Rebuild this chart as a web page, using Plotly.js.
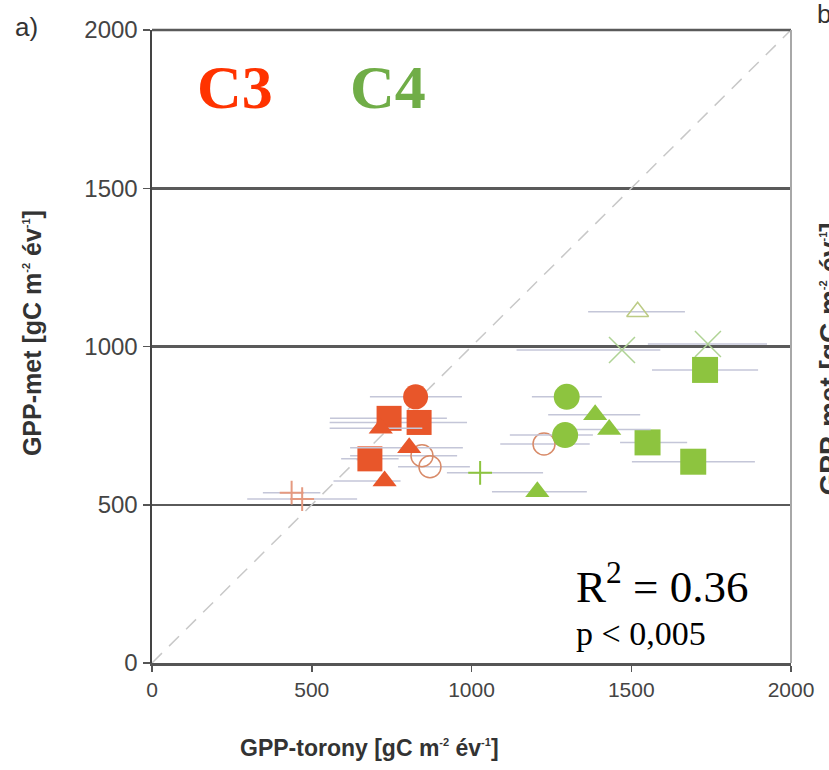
<!DOCTYPE html>
<html><head><meta charset="utf-8">
<script src="https://cdn.plot.ly/plotly-3.0.1.min.js"></script>
<style>html,body{margin:0;padding:0;background:#fff;} #chart{width:829px;height:770px;}</style>
</head><body><div id="chart"></div>
<script>
// ---- axes ----
const xTickVals = [0, 500, 1000, 1500, 2000];
const xTickText = ["0", "500", "1000", "1500", "2000"];
const yTickVals = [0, 500, 1000, 1500, 2000];
const yTickText = ["0", "500", "1000", "1500", "2000"];
const axisRange = [0, 2000];

// ---- 1:1 line ----
const oneToOneX = [0, 2000];
const oneToOneY = [0, 2000];

// ---- C3 sites (GPP-torony, GPP-met, error minus / plus) ----
const c3CircleX = [825];
const c3CircleY = [841];
const c3CircleErrMinus = [143];
const c3CircleErrPlus = [145];

const c3SquareX = [742, 836, 682];
const c3SquareY = [773, 760, 645];
const c3SquareErrMinus = [185, 280, 90];
const c3SquareErrPlus = [181, 150, 90];

const c3TriangleX = [716, 805, 728];
const c3TriangleY = [742, 680, 575];
const c3TriangleErrMinus = [160, 185, 160];
const c3TriangleErrPlus = [130, 168, 50];

const c3OpenCircleX = [845, 870, 1227];
const c3OpenCircleY = [655, 620, 692];
const c3OpenCircleErrMinus = [225, 100, 137];
const c3OpenCircleErrPlus = [110, 125, 143];

const c3PlusX = [437, 470];
const c3PlusY = [538, 518];
const c3PlusErrMinus = [90, 172];
const c3PlusErrPlus = [90, 172];

// ---- C4 sites ----
const c4CircleX = [1298, 1293];
const c4CircleY = [841, 720];
const c4CircleErrMinus = [109, 173];
const c4CircleErrPlus = [110, 87];

const c4TriangleX = [1387, 1431, 1206];
const c4TriangleY = [784, 738, 541];
const c4TriangleErrMinus = [147, 130, 142];
const c4TriangleErrPlus = [141, 130, 155];

const c4SquareX = [1731, 1551, 1694];
const c4SquareY = [926, 697, 636];
const c4SquareErrMinus = [166, 86, 192];
const c4SquareErrPlus = [166, 124, 193];

const c4XX = [1471, 1740];
const c4XY = [989, 1008];
const c4XErrMinus = [330, 188];
const c4XErrPlus = [120, 185];

const c4OpenTriangleX = [1520];
const c4OpenTriangleY = [1110];
const c4OpenTriangleErrMinus = [155];
const c4OpenTriangleErrPlus = [148];

const c4PlusX = [1027];
const c4PlusY = [601];
const c4PlusErrMinus = [104];
const c4PlusErrPlus = [197];

// ---- styles ----
const C3_COLOR = "#E8562A";
const C3_OPEN = "#D88A68";
const C3_PLUS = "#E59A80";
const C4_COLOR = "#8DC43F";
const C4_X = "#AFD395";
const C4_OPEN_TRI = "#BCCB85";
const ERR_COLOR = "#C4C6D8";

function mk(x, y, minus, plus, symbol, size, color, lw) {
  return {
    type: "scatter", mode: "markers", x: x, y: y,
    error_x: {type: "data", symmetric: false, array: plus, arrayminus: minus,
              color: ERR_COLOR, thickness: 1.5, width: 0},
    marker: {symbol: symbol, size: size, color: color,
             line: {color: color, width: lw}},
    hoverinfo: "skip", showlegend: false
  };
}

const traces = [
  {type: "scatter", mode: "lines", x: oneToOneX, y: oneToOneY,
   line: {color: "#C8C8C8", width: 1.5, dash: "14px,10px"}, hoverinfo: "skip", showlegend: false},
  mk(c3PlusX, c3PlusY, c3PlusErrMinus, c3PlusErrPlus, "cross-thin-open", 17, C3_PLUS, 2),
  mk(c3OpenCircleX, c3OpenCircleY, c3OpenCircleErrMinus, c3OpenCircleErrPlus, "circle-open", 22, C3_OPEN, 1.5),
  mk(c3SquareX, c3SquareY, c3SquareErrMinus, c3SquareErrPlus, "square", 25, C3_COLOR, 0),
  mk(c3TriangleX, c3TriangleY, c3TriangleErrMinus, c3TriangleErrPlus, "triangle-up", 21, C3_COLOR, 0),
  mk(c3CircleX, c3CircleY, c3CircleErrMinus, c3CircleErrPlus, "circle", 25, C3_COLOR, 0),
  mk(c4XX, c4XY, c4XErrMinus, c4XErrPlus, "x-thin-open", 26, C4_X, 1.5),
  mk(c4OpenTriangleX, c4OpenTriangleY, c4OpenTriangleErrMinus, c4OpenTriangleErrPlus, "triangle-up-open", 19, C4_OPEN_TRI, 1.5),
  mk(c4PlusX, c4PlusY, c4PlusErrMinus, c4PlusErrPlus, "cross-thin-open", 17, C4_COLOR, 2),
  mk(c4SquareX, c4SquareY, c4SquareErrMinus, c4SquareErrPlus, "square", 26, C4_COLOR, 0),
  mk(c4TriangleX, c4TriangleY, c4TriangleErrMinus, c4TriangleErrPlus, "triangle-up", 21, C4_COLOR, 0),
  mk(c4CircleX, c4CircleY, c4CircleErrMinus, c4CircleErrPlus, "circle", 26, C4_COLOR, 0)
];

const sans = "Liberation Sans, Arial, sans-serif";
const serif = "Liberation Serif, Times New Roman, serif";
const unitsText = 'gC m<sup><span style="font-size:11px">-2</span></sup> év<sup><span style="font-size:11px">-1</span></sup>]';

const layout = {
  width: 829, height: 770,
  margin: {l: 152, r: 38, t: 30, b: 107, pad: 0},
  paper_bgcolor: "#ffffff", plot_bgcolor: "#ffffff",
  showlegend: false, hovermode: false,
  xaxis: {
    range: axisRange, tickvals: xTickVals, ticktext: xTickText,
    ticks: "outside", ticklen: 6, tickwidth: 1.5, tickcolor: "#555",
    showline: true, linecolor: "#555", linewidth: 2.5,
    showgrid: false, zeroline: false,
    tickfont: {family: sans, size: 21, color: "#444"},
    fixedrange: true
  },
  yaxis: {
    range: axisRange, tickvals: yTickVals, ticktext: yTickText,
    ticks: "outside", ticklen: 7, tickwidth: 1.5, tickcolor: "#555",
    showline: true, linecolor: "#444", linewidth: 2.5,
    showgrid: true, gridcolor: "#5a5a5a", gridwidth: 2.5, zeroline: false,
    tickfont: {family: sans, size: 24, color: "#444"},
    fixedrange: true
  },
  shapes: [
    {type: "line", xref: "paper", yref: "paper", x0: 0, x1: 1, y0: 1, y1: 1,
     line: {color: "#5a5a5a", width: 2.5}},
    {type: "line", xref: "paper", yref: "paper", x0: 1, x1: 1, y0: 0, y1: 1,
     line: {color: "#A8A8A8", width: 2}}
  ],
  annotations: [
    {xref: "paper", yref: "paper", x: 0.341, y: -0.134, xanchor: "center", yanchor: "middle",
     showarrow: false, text: "<b>GPP-torony [" + unitsText + "</b>",
     font: {family: sans, size: 23, color: "#333"}},
    {xref: "paper", yref: "paper", x: -0.188, y: 0.521, xanchor: "center", yanchor: "middle",
     textangle: -90, showarrow: false, text: "<b>GPP-met [" + unitsText + "</b>",
     font: {family: sans, size: 25, color: "#333"}},
    {xref: "paper", yref: "paper", x: -0.196, y: 1.005, xanchor: "center", yanchor: "middle",
     showarrow: false, text: "a)", font: {family: sans, size: 26, color: "#333"}},
    {xref: "paper", yref: "paper", x: 1.038, y: 1.025, xanchor: "left", yanchor: "middle",
     showarrow: false, text: "b", font: {family: sans, size: 26, color: "#333"}},
    {xref: "paper", yref: "paper", x: 1.06, y: 0.48, xanchor: "center", yanchor: "middle",
     textangle: -90, showarrow: false, text: "<b>GPP-met [" + unitsText + "</b>",
     font: {family: sans, size: 28, color: "#333"}},
    {xref: "paper", yref: "paper", x: 0.067, y: 0.91, xanchor: "left", yanchor: "middle",
     showarrow: false, text: "<b>C3</b>", font: {family: serif, size: 62, color: "#FF3300"}},
    {xref: "paper", yref: "paper", x: 0.306, y: 0.91, xanchor: "left", yanchor: "middle",
     showarrow: false, text: "<b>C4</b>", font: {family: serif, size: 62, color: "#70AD47"}},
    {xref: "paper", yref: "paper", x: 0.66, y: 0.126, xanchor: "left", yanchor: "middle",
     showarrow: false, text: "R<sup>2</sup> = 0.36", font: {family: serif, size: 45, color: "#000"}},
    {xref: "paper", yref: "paper", x: 0.66, y: 0.046, xanchor: "left", yanchor: "middle",
     showarrow: false, text: "p &lt; 0,005", font: {family: serif, size: 34, color: "#000"}}
  ]
};

Plotly.newPlot("chart", traces, layout, {displayModeBar: false, staticPlot: true});
</script>
</body></html>
